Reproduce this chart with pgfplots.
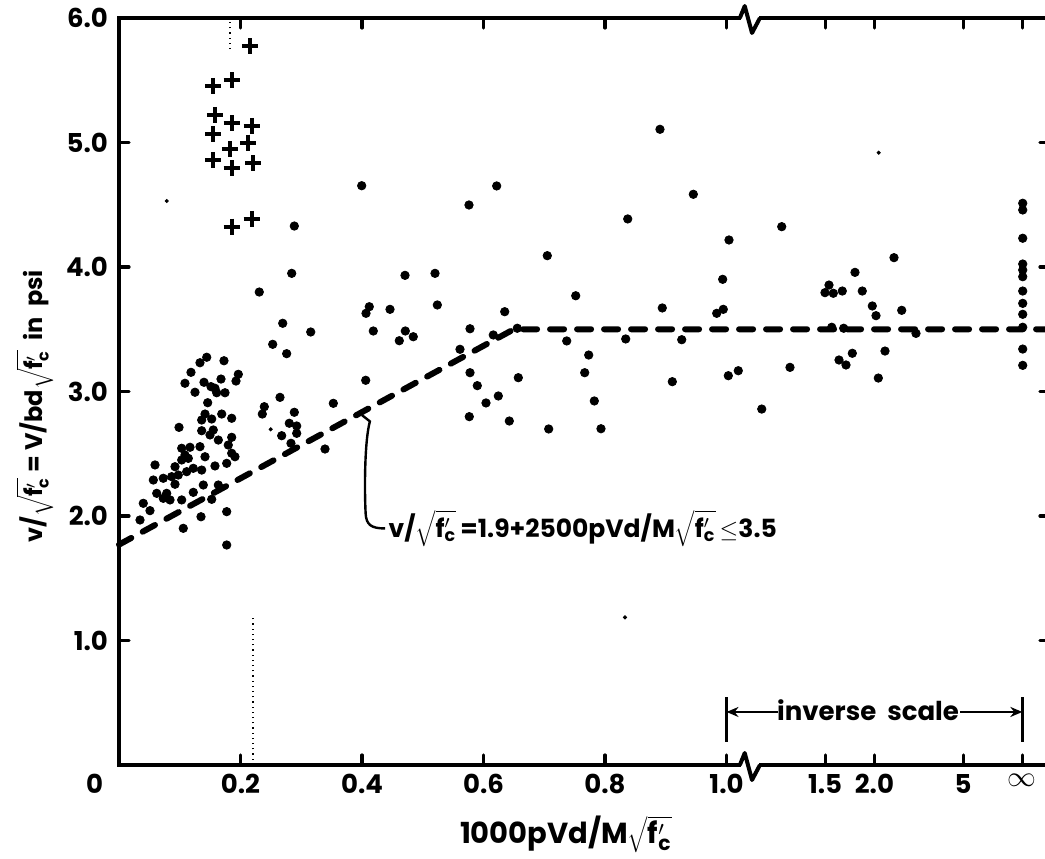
\documentclass[border=0pt]{standalone}
\usepackage{fontspec}
\setmainfont{Poppins}
\usepackage{pgfplots}
\pgfplotsset{compat=1.18}
\usetikzlibrary{arrows.meta}
\newcommand{\fc}{\sqrt{\mathbf{f}'_{\mathbf{c}}}}
\begin{document}
\begin{tikzpicture}
\begin{axis}[name=ax,
  scale only axis, width=465.5pt, height=373.5pt,
  xmin=0, xmax=1.5325, ymin=0, ymax=6,
  clip=false,
  axis line style={line width=2.2pt},
  major tick length=5pt,
  every tick/.style={line width=1.6pt, black, line cap=round},
  tick label style={font=\fontsize{13}{15}\selectfont\bfseries},
  xtick={0,0.2,0.4,0.6,0.8,1.0,1.1623,1.2435,1.3896,1.487},
  xticklabels={\makebox[0pt][r]{0\hspace{8pt}},0.2,0.4,0.6,0.8,1.0,1.5,2.0,5,\raisebox{5pt}{\scalebox{1.2}{$\infty$}}},
  ytick={1,2,3,4,5,6},
  yticklabels={1.0,2.0,3.0,4.0,5.0,6.0},
  yticklabel style={xshift=-2pt},
  xticklabel style={yshift=-1pt},
  xlabel={1000pVd/M$\fc$},
  xlabel style={at={(rel axis cs:0.48,0)}, anchor=north, yshift=-22pt, font=\fontsize{14.5}{16}\selectfont\bfseries},
  ylabel={v/$\fc$ = V/bd$\fc$ \ in \ psi},
  ylabel style={at={(rel axis cs:0,0.48)}, anchor=center, yshift=42pt, font=\fontsize{12}{14}\selectfont\bfseries},
]
% design line
\addplot[black, line width=3pt, line cap=round, dash pattern=on 7pt off 6.5pt] coordinates {(0,1.77) (0.65,3.5) (1.5325,3.5)};
% test results (dots)
\addplot[only marks, mark=*, mark size=2.1pt, black] coordinates {
(0.1444,3.275)(0.1333,3.231)(0.1728,3.247)(0.1185,3.154)(0.1964,3.138)(0.1926,3.084)(0.1086,3.066)(0.1399,3.074)(0.1514,3.039)(0.1580,3.026)(0.1679,3.100)(0.1251,2.994)(0.1608,2.990)(0.1745,2.990)(0.1460,2.910)(0.1416,2.819)(0.1361,2.771)(0.1526,2.779)(0.1691,2.819)(0.1855,2.785)(0.0988,2.712)(0.1361,2.685)(0.1552,2.691)(0.1498,2.651)(0.1635,2.610)(0.1855,2.632)(0.1799,2.570)(0.1032,2.544)(0.1169,2.552)(0.1333,2.557)(0.1086,2.490)(0.1032,2.450)(0.1141,2.463)(0.1416,2.476)(0.1855,2.504)(0.1909,2.476)(0.0593,2.410)(0.0922,2.396)(0.1114,2.356)(0.1223,2.383)(0.1361,2.369)(0.0976,2.329)(0.0867,2.316)(0.1580,2.402)(0.1773,2.423)(0.0565,2.289)(0.0729,2.303)(0.0922,2.255)(0.1388,2.249)(0.1635,2.249)(0.0621,2.182)(0.0785,2.182)(0.0840,2.129)(0.0729,2.142)(0.1223,2.190)(0.1032,2.129)(0.1526,2.134)(0.0400,2.102)(0.0510,2.043)(0.1350,1.994)(0.1773,2.035)(0.0346,1.968)(0.1058,1.901)(0.1773,1.767)
(0.2695,3.548)(0.3156,3.478)(0.2530,3.379)(0.2760,3.304)(0.4120,3.681)(0.4066,3.628)(0.4461,3.660)(0.4186,3.486)(0.4713,3.486)(0.4614,3.408)(0.4844,3.440)(0.4061,3.090)(0.3528,2.905)(0.2650,2.953)(0.2392,2.878)(0.2359,2.819)(0.2886,2.833)(0.2803,2.745)(0.2925,2.723)(0.2925,2.664)(0.2678,2.645)(0.2831,2.584)(0.3391,2.538)(0.5240,3.695)
(0.3995,4.653)(0.2886,4.329)(0.2843,3.949)(0.4708,3.933)(0.5202,3.949)(0.2309,3.799)(0.6217,4.651)(0.5761,4.498)(0.8374,4.386)(0.7050,4.091)(0.8905,5.106)(0.6349,3.641)(0.7518,3.769)(0.5778,3.504)(0.6556,3.508)(0.9937,3.901)(0.8943,3.671)(0.9839,3.628)(0.9947,3.660)(0.7370,3.406)(0.8341,3.422)(0.9263,3.416)(0.7732,3.293)(0.7666,3.151)(0.5778,3.151)(0.5898,3.047)(0.6041,2.908)(0.6244,2.964)(0.6573,3.111)(0.5766,2.798)(0.6425,2.763)(0.7824,2.924)(0.7073,2.699)(0.7934,2.701)(1.0030,3.127)(1.0194,3.167)(0.9108,3.079)(1.0580,2.859)(0.5613,3.339)(0.6161,3.454)
(1.2757,4.075)(1.2115,3.957)(1.1687,3.855)(1.1621,3.794)(1.1758,3.789)(1.1906,3.807)(1.2235,3.807)(1.2400,3.687)(1.2461,3.609)(1.2884,3.652)(1.1732,3.516)(1.1929,3.508)(1.3119,3.467)(1.1852,3.253)(1.1967,3.213)(1.2071,3.307)(1.2609,3.325)(1.2499,3.108)(1.1045,3.194)(0.9454,4.584)(1.0041,4.217)(1.0909,4.324)
(1.4876,4.512)(1.4876,4.458)(1.4876,4.231)(1.4876,4.024)(1.4876,3.976)(1.4876,3.922)(1.4876,3.807)(1.4876,3.708)(1.4876,3.620)(1.4876,3.516)(1.4876,3.341)(1.4876,3.210)
};
% faint small dots
\addplot[only marks, mark=*, mark size=0.8pt, black] coordinates {(0.0785,4.530)(1.2505,4.918)(0.8329,1.186)(0.2497,2.696)};
% crosses
\addplot[only marks, mark=+, mark size=4pt, black, mark options={line width=2pt}] coordinates {
(0.2156,5.775)(0.1552,5.454)(0.1855,5.502)(0.1580,5.221)(0.1855,5.154)(0.2184,5.133)(0.1552,5.068)(0.2128,4.998)(0.1827,4.945)(0.1552,4.859)(0.1855,4.793)(0.2211,4.833)(0.1855,4.324)(0.2184,4.386)
};
% faint dotted guide lines
\draw[black, line width=0.6pt, dotted] (axis cs:0.2206,0) -- (axis cs:0.2206,1.18);
\draw[black, line width=0.6pt, dotted] (axis cs:0.1827,5.75) -- (axis cs:0.1827,6);
% axis breaks
\fill[white] ([yshift=-2pt]axis cs:1.024,0) rectangle ([yshift=2pt]axis cs:1.053,0);
\draw[line width=2pt, line join=round] (axis cs:1.022,0) -- ([yshift=6pt]axis cs:1.030,0) -- ([yshift=-7.5pt]axis cs:1.042,0) -- (axis cs:1.055,0);
\fill[white] ([yshift=-2pt]axis cs:1.024,6) rectangle ([yshift=2pt]axis cs:1.053,6);
\draw[line width=2pt, line join=round] (axis cs:1.022,6) -- ([yshift=6pt]axis cs:1.030,6) -- ([yshift=-7.5pt]axis cs:1.042,6) -- (axis cs:1.055,6);
% inverse scale marker
\draw[line width=1.3pt] (axis cs:1.0,0.185) -- (axis cs:1.0,0.546);
\draw[line width=1.3pt] (axis cs:1.487,0.185) -- (axis cs:1.487,0.546);
\node[font=\fontsize{13}{15}\selectfont\bfseries] at (axis cs:1.233,0.44) {inverse \ scale};
\draw[line width=1.3pt, -{Stealth[length=6pt,width=5pt]}] (axis cs:1.085,0.426) -- (axis cs:1.0,0.426);
\draw[line width=1.3pt, -{Stealth[length=6pt,width=5pt]}] (axis cs:1.385,0.426) -- (axis cs:1.487,0.426);
% leader and equation
\draw[line width=1.2pt] (axis cs:0.400,2.81) -- (axis cs:0.413,2.76) .. controls (axis cs:0.404,2.6) and (axis cs:0.404,2.2) .. (axis cs:0.406,2.02) .. controls (axis cs:0.407,1.93) and (axis cs:0.415,1.9) .. (axis cs:0.438,1.9);
\node[anchor=west, inner sep=1pt, font=\fontsize{12.5}{14}\selectfont\bfseries] at (axis cs:0.44,1.9) {v/$\fc$\,=1.9+2500pVd/M$\fc$\,$\le$3.5};
\end{axis}
\pgfresetboundingbox
\path ([xshift=-59.5pt,yshift=-46.5pt]ax.south west) rectangle ([xshift=-2.5pt,yshift=9pt]ax.north east);
\end{tikzpicture}
\end{document}
